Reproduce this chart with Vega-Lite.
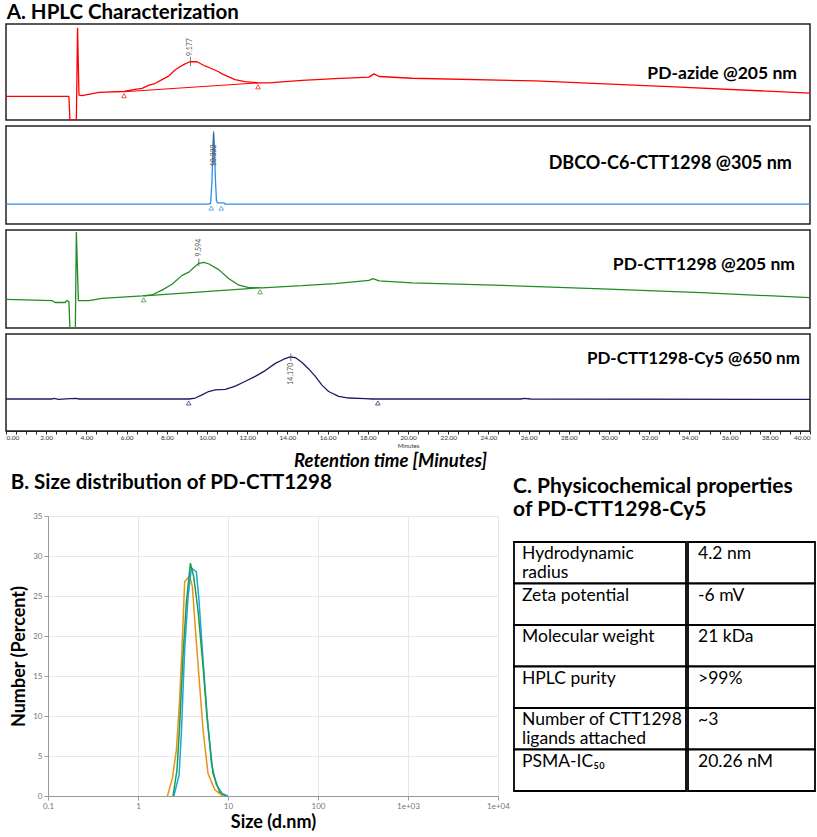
{
  "$schema": "https://vega.github.io/schema/vega-lite/v6.json",
  "padding": {"left": 4, "top": 2, "right": 0, "bottom": 0},
  "background": "white",
  "config": {
    "font": "Lato",
    "view": {"stroke": null},
    "title": {"font": "Lato", "fontWeight": "bold", "color": "black"},
    "axis": {"labelFont": "Lato", "titleFont": "Lato"}
  },
  "datasets": {
    "azide": [
      {"t": 0, "v": 24.7}, {"t": 2.29, "v": 24.7}, {"t": 3.13, "v": 24.7}, {"t": 3.18, "v": 0}, {"t": 3.5, "v": 0},
      {"t": 3.56, "v": 96}, {"t": 3.63, "v": 26}, {"t": 3.78, "v": 25.3}, {"t": 4.63, "v": 28.7}, {"t": 5.87, "v": 29.7},
      {"t": 6.42, "v": 32}, {"t": 6.77, "v": 33}, {"t": 7.11, "v": 36.3}, {"t": 7.41, "v": 38}, {"t": 7.76, "v": 42},
      {"t": 8.11, "v": 46}, {"t": 8.41, "v": 52}, {"t": 8.61, "v": 55}, {"t": 8.86, "v": 58}, {"t": 9.15, "v": 60.7},
      {"t": 9.5, "v": 60.7}, {"t": 9.9, "v": 56.3}, {"t": 10.1, "v": 54.7}, {"t": 10.6, "v": 50}, {"t": 10.75, "v": 48},
      {"t": 11.39, "v": 42}, {"t": 11.89, "v": 40}, {"t": 12.54, "v": 38.7}, {"t": 13.08, "v": 38.7}, {"t": 14.73, "v": 41.3},
      {"t": 16.37, "v": 43}, {"t": 18.06, "v": 44.7}, {"t": 18.31, "v": 48}, {"t": 18.56, "v": 45.3}, {"t": 20.2, "v": 43.5},
      {"t": 26.32, "v": 40.7}, {"t": 32.99, "v": 34.7}, {"t": 40, "v": 28}
    ],
    "azide_integ": [{"t": 5.87, "v": 29.5}, {"t": 12.54, "v": 38.7}],
    "azide_peak": [{"t": 9.177, "label": "9.177"}],
    "dbco": [
      {"t": 0, "v": 20.3}, {"t": 10.05, "v": 20.3}, {"t": 10.18, "v": 21}, {"t": 10.25, "v": 45}, {"t": 10.3, "v": 85},
      {"t": 10.33, "v": 93}, {"t": 10.37, "v": 80}, {"t": 10.42, "v": 45}, {"t": 10.47, "v": 24}, {"t": 10.52, "v": 21.5},
      {"t": 10.85, "v": 21.5}, {"t": 10.9, "v": 20.3}, {"t": 40, "v": 20.3}
    ],
    "dbco_integ": [{"t": 10.21, "v": 20.3}, {"t": 10.71, "v": 20.3}],
    "dbco_peak": [{"t": 10.332, "label": "10.332"}],
    "pdctt": [
      {"t": 0, "v": 29.3}, {"t": 2.29, "v": 28}, {"t": 2.44, "v": 26}, {"t": 2.94, "v": 26}, {"t": 3.03, "v": 28},
      {"t": 3.13, "v": 27}, {"t": 3.18, "v": 0}, {"t": 3.45, "v": 0}, {"t": 3.5, "v": 98}, {"t": 3.6, "v": 28},
      {"t": 3.68, "v": 28}, {"t": 4.13, "v": 28}, {"t": 4.78, "v": 30.3}, {"t": 6.77, "v": 32.7}, {"t": 7.26, "v": 33.7},
      {"t": 7.76, "v": 38.7}, {"t": 8.26, "v": 44.7}, {"t": 8.76, "v": 53.7}, {"t": 9.1, "v": 57}, {"t": 9.4, "v": 62.7},
      {"t": 9.6, "v": 66}, {"t": 9.85, "v": 67}, {"t": 10.1, "v": 65.3}, {"t": 10.6, "v": 59.3}, {"t": 11.09, "v": 50.3},
      {"t": 11.59, "v": 43.7}, {"t": 12.09, "v": 41.3}, {"t": 12.74, "v": 41}, {"t": 14.73, "v": 43.3}, {"t": 16.37, "v": 45.3},
      {"t": 18.06, "v": 48.7}, {"t": 18.26, "v": 50.3}, {"t": 18.56, "v": 48}, {"t": 20.2, "v": 46}, {"t": 24.7, "v": 43.5},
      {"t": 29.65, "v": 40}, {"t": 34.6, "v": 36}, {"t": 40, "v": 31}
    ],
    "pdctt_integ": [{"t": 6.85, "v": 32.8}, {"t": 12.64, "v": 41}],
    "pdctt_peak": [{"t": 9.594, "label": "9.594"}],
    "cy5": [
      {"t": 0, "v": 33}, {"t": 2.3, "v": 33}, {"t": 2.4, "v": 33.6}, {"t": 2.6, "v": 32.7}, {"t": 3.2, "v": 33.4},
      {"t": 3.5, "v": 33.7}, {"t": 3.6, "v": 33}, {"t": 9.1, "v": 33}, {"t": 9.42, "v": 34}, {"t": 9.75, "v": 37.3},
      {"t": 10.08, "v": 40.7}, {"t": 10.41, "v": 42.3}, {"t": 10.91, "v": 43}, {"t": 11.41, "v": 46.3}, {"t": 11.91, "v": 51.3},
      {"t": 12.4, "v": 56.3}, {"t": 12.9, "v": 62.3}, {"t": 13.4, "v": 69.7}, {"t": 13.82, "v": 74}, {"t": 14.14, "v": 76.3},
      {"t": 14.39, "v": 75.7}, {"t": 14.73, "v": 70.7}, {"t": 15.06, "v": 64}, {"t": 15.39, "v": 56.3}, {"t": 15.72, "v": 47.3},
      {"t": 16.05, "v": 40.7}, {"t": 16.55, "v": 35.7}, {"t": 17.05, "v": 34}, {"t": 17.88, "v": 33.3}, {"t": 18.2, "v": 33},
      {"t": 25.6, "v": 33}, {"t": 25.8, "v": 33.6}, {"t": 26.1, "v": 33}, {"t": 40, "v": 32.6}
    ],
    "cy5_integ": [{"t": 9.09, "v": 33}, {"t": 18.5, "v": 33}],
    "cy5_peak": [{"t": 14.17, "label": "14.170"}],
    "dls": [
      {"run": "Run 1", "size": 2.12, "pct": 0}, {"run": "Run 1", "size": 2.41, "pct": 2.2}, {"run": "Run 1", "size": 2.67, "pct": 5.75},
      {"run": "Run 1", "size": 2.9, "pct": 12}, {"run": "Run 1", "size": 3.11, "pct": 19.5}, {"run": "Run 1", "size": 3.3, "pct": 26.8},
      {"run": "Run 1", "size": 3.75, "pct": 27.5}, {"run": "Run 1", "size": 4.02, "pct": 26.2}, {"run": "Run 1", "size": 4.38, "pct": 20.3},
      {"run": "Run 1", "size": 4.85, "pct": 13.7}, {"run": "Run 1", "size": 5.28, "pct": 8.25}, {"run": "Run 1", "size": 6.0, "pct": 2.8},
      {"run": "Run 1", "size": 7.11, "pct": 0.8}, {"run": "Run 1", "size": 8.45, "pct": 0.1}, {"run": "Run 1", "size": 8.9, "pct": 0},
      {"run": "Run 2", "size": 2.5, "pct": 0}, {"run": "Run 2", "size": 2.86, "pct": 2.6}, {"run": "Run 2", "size": 3.03, "pct": 7.8},
      {"run": "Run 2", "size": 3.3, "pct": 18.3}, {"run": "Run 2", "size": 3.6, "pct": 24.9}, {"run": "Run 2", "size": 3.92, "pct": 28.5},
      {"run": "Run 2", "size": 4.45, "pct": 28}, {"run": "Run 2", "size": 4.76, "pct": 24.5}, {"run": "Run 2", "size": 5.28, "pct": 17},
      {"run": "Run 2", "size": 5.84, "pct": 10.3}, {"run": "Run 2", "size": 6.54, "pct": 4.1}, {"run": "Run 2", "size": 7.43, "pct": 1.4},
      {"run": "Run 2", "size": 8.66, "pct": 0.3}, {"run": "Run 2", "size": 10, "pct": 0},
      {"run": "Run 3", "size": 2.45, "pct": 0}, {"run": "Run 3", "size": 2.71, "pct": 3.25}, {"run": "Run 3", "size": 2.9, "pct": 8.7},
      {"run": "Run 3", "size": 3.16, "pct": 17.4}, {"run": "Run 3", "size": 3.44, "pct": 24.1}, {"run": "Run 3", "size": 3.82, "pct": 29.1},
      {"run": "Run 3", "size": 4.16, "pct": 27.4}, {"run": "Run 3", "size": 4.64, "pct": 23.25}, {"run": "Run 3", "size": 5.28, "pct": 16.2},
      {"run": "Run 3", "size": 5.84, "pct": 9.9}, {"run": "Run 3", "size": 6.81, "pct": 2.8}, {"run": "Run 3", "size": 8.07, "pct": 0.5},
      {"run": "Run 3", "size": 9.41, "pct": 0}
    ],
    "props": [
      {"row": 1, "prop": "Hydrodynamic\nradius", "val": "4.2 nm"},
      {"row": 2, "prop": "Zeta potential", "val": "-6 mV"},
      {"row": 3, "prop": "Molecular weight", "val": "21 kDa"},
      {"row": 4, "prop": "HPLC purity", "val": ">99%"},
      {"row": 5, "prop": "Number of CTT1298\nligands attached", "val": "~3"},
      {"row": 6, "prop": "PSMA-IC₅₀", "val": "20.26 nM"}
    ],
    "empty": []
  },
  "columns": 1,
  "align": "none",
  "spacing": 0,
  "concat": [
    {
      "title": {"text": "A. HPLC Characterization", "anchor": "start", "fontSize": 20.5, "offset": 0, "dx": 2},
      "spacing": 6,
      "bounds": "flush",
      "vconcat": [
        {
          "width": 804, "height": 96,
          "view": {"stroke": "#222", "strokeWidth": 1.5},
          "layer": [
            {"data": {"name": "azide"}, "mark": {"type": "line", "color": "#ff0000", "strokeWidth": 1.3, "strokeJoin": "bevel", "clip": true},
             "encoding": {"x": {"field": "t", "type": "quantitative", "scale": {"domain": [0, 40]}, "axis": null},
                          "y": {"field": "v", "type": "quantitative", "scale": {"domain": [0, 96]}, "axis": null}}},
            {"data": {"name": "azide_integ"}, "mark": {"type": "line", "color": "#ff0000", "strokeWidth": 1.1},
             "encoding": {"x": {"field": "t", "type": "quantitative"}, "y": {"field": "v", "type": "quantitative"}}},
            {"data": {"name": "azide_integ"}, "mark": {"type": "point", "shape": "triangle-up", "filled": false, "color": "#ff0000", "size": 22, "strokeWidth": 1, "yOffset": 4},
             "encoding": {"x": {"field": "t", "type": "quantitative"}, "y": {"field": "v", "type": "quantitative"}}},
            {"data": {"name": "azide_peak"}, "mark": {"type": "rule", "color": "#555", "strokeWidth": 0.8},
             "encoding": {"x": {"field": "t", "type": "quantitative"}, "y": {"datum": 56}, "y2": {"datum": 66}}},
            {"data": {"name": "azide_peak"}, "mark": {"type": "text", "angle": 270, "fontSize": 7, "color": "#555", "align": "center", "baseline": "middle"},
             "encoding": {"x": {"field": "t", "type": "quantitative"}, "y": {"datum": 76}, "text": {"field": "label"}}},
            {"data": {"values": [{"label": "PD-azide @205 nm"}]}, "mark": {"type": "text", "align": "right", "baseline": "middle", "fontSize": 17.5, "fontWeight": "bold", "color": "black"},
             "encoding": {"x": {"datum": 39.35}, "y": {"datum": 48}, "text": {"field": "label"}}}
          ]
        },
        {
          "width": 804, "height": 98,
          "view": {"stroke": "#222", "strokeWidth": 1.5},
          "layer": [
            {"data": {"name": "dbco"}, "mark": {"type": "line", "color": "#2f8fe6", "strokeWidth": 1.3, "strokeJoin": "bevel", "clip": true},
             "encoding": {"x": {"field": "t", "type": "quantitative", "scale": {"domain": [0, 40]}, "axis": null},
                          "y": {"field": "v", "type": "quantitative", "scale": {"domain": [0, 98]}, "axis": null}}},
            {"data": {"name": "dbco_integ"}, "mark": {"type": "point", "shape": "triangle-up", "filled": false, "color": "#2f8fe6", "size": 22, "strokeWidth": 1, "yOffset": 4},
             "encoding": {"x": {"field": "t", "type": "quantitative"}, "y": {"field": "v", "type": "quantitative"}}},
            {"data": {"name": "dbco_peak"}, "mark": {"type": "rule", "color": "#555", "strokeWidth": 0.8},
             "encoding": {"x": {"field": "t", "type": "quantitative"}, "y": {"datum": 60}, "y2": {"datum": 95}}},
            {"data": {"name": "dbco_peak"}, "mark": {"type": "text", "angle": 270, "fontSize": 7, "color": "#555", "align": "center", "baseline": "middle"},
             "encoding": {"x": {"field": "t", "type": "quantitative"}, "y": {"datum": 70}, "text": {"field": "label"}}},
            {"data": {"values": [{"label": "DBCO-C6-CTT1298 @305 nm"}]}, "mark": {"type": "text", "align": "right", "baseline": "middle", "fontSize": 18, "fontWeight": "bold", "color": "black"},
             "encoding": {"x": {"datum": 39.1}, "y": {"datum": 61}, "text": {"field": "label"}}}
          ]
        },
        {
          "width": 804, "height": 98,
          "view": {"stroke": "#222", "strokeWidth": 1.5},
          "layer": [
            {"data": {"name": "pdctt"}, "mark": {"type": "line", "color": "#238b23", "strokeWidth": 1.3, "strokeJoin": "bevel", "clip": true},
             "encoding": {"x": {"field": "t", "type": "quantitative", "scale": {"domain": [0, 40]}, "axis": null},
                          "y": {"field": "v", "type": "quantitative", "scale": {"domain": [0, 98]}, "axis": null}}},
            {"data": {"name": "pdctt_integ"}, "mark": {"type": "line", "color": "#238b23", "strokeWidth": 1.1},
             "encoding": {"x": {"field": "t", "type": "quantitative"}, "y": {"field": "v", "type": "quantitative"}}},
            {"data": {"name": "pdctt_integ"}, "mark": {"type": "point", "shape": "triangle-up", "filled": false, "color": "#238b23", "size": 22, "strokeWidth": 1, "yOffset": 4},
             "encoding": {"x": {"field": "t", "type": "quantitative"}, "y": {"field": "v", "type": "quantitative"}}},
            {"data": {"name": "pdctt_peak"}, "mark": {"type": "rule", "color": "#555", "strokeWidth": 0.8},
             "encoding": {"x": {"field": "t", "type": "quantitative"}, "y": {"datum": 63}, "y2": {"datum": 71}}},
            {"data": {"name": "pdctt_peak"}, "mark": {"type": "text", "angle": 270, "fontSize": 7, "color": "#555", "align": "center", "baseline": "middle"},
             "encoding": {"x": {"field": "t", "type": "quantitative"}, "y": {"datum": 82}, "text": {"field": "label"}}},
            {"data": {"values": [{"label": "PD-CTT1298 @205 nm"}]}, "mark": {"type": "text", "align": "right", "baseline": "middle", "fontSize": 17.5, "fontWeight": "bold", "color": "black"},
             "encoding": {"x": {"datum": 39.25}, "y": {"datum": 64}, "text": {"field": "label"}}}
          ]
        },
        {
          "width": 804, "height": 97,
          "view": {"stroke": "#222", "strokeWidth": 1.5},
          "resolve": {"axis": {"x": "independent"}},
          "layer": [
            {"data": {"name": "cy5"}, "mark": {"type": "line", "color": "#1c1c60", "strokeWidth": 1.3, "strokeJoin": "bevel", "clip": true},
             "encoding": {"x": {"field": "t", "type": "quantitative", "scale": {"domain": [0, 40]},
                                "axis": {"values": [0,0.5,1,1.5,2,2.5,3,3.5,4,4.5,5,5.5,6,6.5,7,7.5,8,8.5,9,9.5,10,10.5,11,11.5,12,12.5,13,13.5,14,14.5,15,15.5,16,16.5,17,17.5,18,18.5,19,19.5,20,20.5,21,21.5,22,22.5,23,23.5,24,24.5,25,25.5,26,26.5,27,27.5,28,28.5,29,29.5,30,30.5,31,31.5,32,32.5,33,33.5,34,34.5,35,35.5,36,36.5,37,37.5,38,38.5,39,39.5,40],
                                         "labelExpr": "datum.value % 2 === 0 ? format(datum.value, '.2f') : ''",
                                         "labelFontSize": 6.5, "labelColor": "#333", "labelFlush": true, "labelPadding": 0,
                                         "tickSize": 3, "tickColor": "#222", "domainColor": "#222", "domainWidth": 1.2, "grid": false,
                                         "title": "Minutes", "titleFontSize": 6, "titleFontWeight": "normal", "titleColor": "#333", "titlePadding": 2}},
                          "y": {"field": "v", "type": "quantitative", "scale": {"domain": [0, 97]}, "axis": null}}},
            {"data": {"name": "cy5_integ"}, "mark": {"type": "point", "shape": "triangle-up", "filled": false, "color": "#1c1c60", "size": 22, "strokeWidth": 1, "yOffset": 4},
             "encoding": {"x": {"field": "t", "type": "quantitative",
                                "axis": {"orient": "bottom", "offset": 20, "domain": false, "ticks": false, "labels": false, "grid": false,
                                         "title": "Retention time [Minutes]", "titleX": 384, "titleAlign": "center", "titleFontSize": 18.5, "titleFontWeight": "bold", "titleFontStyle": "italic", "titleColor": "black", "titlePadding": 0}},
                          "y": {"field": "v", "type": "quantitative"}}},
            {"data": {"name": "cy5_peak"}, "mark": {"type": "rule", "color": "#555", "strokeWidth": 0.8},
             "encoding": {"x": {"field": "t", "type": "quantitative", "axis": null}, "y": {"datum": 72}, "y2": {"datum": 80}}},
            {"data": {"name": "cy5_peak"}, "mark": {"type": "text", "angle": 270, "fontSize": 7, "color": "#555", "align": "center", "baseline": "middle"},
             "encoding": {"x": {"field": "t", "type": "quantitative", "axis": null}, "y": {"datum": 59}, "text": {"field": "label"}}},
            {"data": {"values": [{"label": "PD-CTT1298-Cy5 @650 nm"}]}, "mark": {"type": "text", "align": "right", "baseline": "middle", "fontSize": 17, "fontWeight": "bold", "color": "black"},
             "encoding": {"x": {"datum": 39.5, "axis": null}, "y": {"datum": 74}, "text": {"field": "label"}}}
          ]
        }
      ]
    },
    {
      "columns": 3,
      "align": "none",
      "spacing": 3,
      "concat": [
        {"width": 1, "height": 1, "data": {"name": "empty"}, "mark": "point"},
        {
          "spacing": 0,
          "vconcat": [
            {"width": 1, "height": 1, "data": {"name": "empty"}, "mark": "point"},
            {
              "title": {"text": "B. Size distribution of PD-CTT1298", "anchor": "start", "fontSize": 20.5, "offset": 19},
              "width": 450, "height": 280,
              "data": {"name": "dls"},
              "mark": {"type": "line", "strokeWidth": 1.5},
              "encoding": {
                "x": {"field": "size", "type": "quantitative", "scale": {"type": "log", "domain": [0.1, 10000]},
                      "axis": {"values": [0.1, 1, 10, 100, 1000, 10000],
                               "labelExpr": "datum.value == 1000 ? '1e+03' : (datum.value == 10000 ? '1e+04' : format(datum.value, '~g'))",
                               "labelFlush": false, "labelFontSize": 8, "labelColor": "#777", "tickSize": 4, "tickColor": "#999", "domainColor": "#999",
                               "gridColor": "#e6e6ee", "title": "Size (d.nm)", "titleFontSize": 18, "titleFontWeight": "bold", "titleColor": "black", "titlePadding": 3}},
                "y": {"field": "pct", "type": "quantitative", "scale": {"domain": [0, 35]},
                      "axis": {"values": [0, 5, 10, 15, 20, 25, 30, 35], "labelFontSize": 8, "labelColor": "#777", "tickSize": 4, "tickColor": "#999", "domainColor": "#999",
                               "gridColor": "#e6e6ee", "title": "Number (Percent)", "titleFontSize": 18, "titleFontWeight": "bold", "titleColor": "black", "titlePadding": 4}},
                "color": {"field": "run", "type": "nominal", "scale": {"domain": ["Run 1", "Run 2", "Run 3"], "range": ["#e8921a", "#1ca5e2", "#1f9e4a"]}, "legend": null}
              }
            }
          ]
        },
        {
          "spacing": 0,
          "vconcat": [
            {"width": 1, "height": 5, "data": {"name": "empty"}, "mark": "point"},
            {
              "title": {"text": ["C. Physicochemical properties", "of PD-CTT1298-Cy5"], "anchor": "start", "fontSize": 21, "lineHeight": 23, "offset": 21},
              "data": {"name": "props"},
              "spacing": 0,
              "hconcat": [
                {
                  "width": 172, "height": 249,
                  "layer": [
                    {"mark": {"type": "rect", "fill": "white", "stroke": "black", "strokeWidth": 1.8},
                     "encoding": {"y": {"field": "row", "type": "ordinal", "axis": null, "scale": {"paddingInner": 0, "paddingOuter": 0}}}},
                    {"mark": {"type": "text", "align": "left", "baseline": "top", "dx": 8, "dy": 3, "fontSize": 17.5, "lineHeight": 19, "lineBreak": "\n", "color": "black"},
                     "encoding": {"y": {"field": "row", "type": "ordinal", "bandPosition": 0, "axis": null},
                                  "x": {"datum": 0, "type": "quantitative", "scale": {"domain": [0, 1]}, "axis": null},
                                  "text": {"field": "prop"}}}
                  ]
                },
                {
                  "width": 127, "height": 249,
                  "layer": [
                    {"mark": {"type": "rect", "fill": "white", "stroke": "black", "strokeWidth": 1.8},
                     "encoding": {"y": {"field": "row", "type": "ordinal", "axis": null, "scale": {"paddingInner": 0, "paddingOuter": 0}}}},
                    {"mark": {"type": "text", "align": "left", "baseline": "top", "dx": 10, "dy": 3, "fontSize": 17.5, "color": "black"},
                     "encoding": {"y": {"field": "row", "type": "ordinal", "bandPosition": 0, "axis": null},
                                  "x": {"datum": 0, "type": "quantitative", "scale": {"domain": [0, 1]}, "axis": null},
                                  "text": {"field": "val"}}}
                  ]
                }
              ]
            }
          ]
        }
      ]
    }
  ]
}
